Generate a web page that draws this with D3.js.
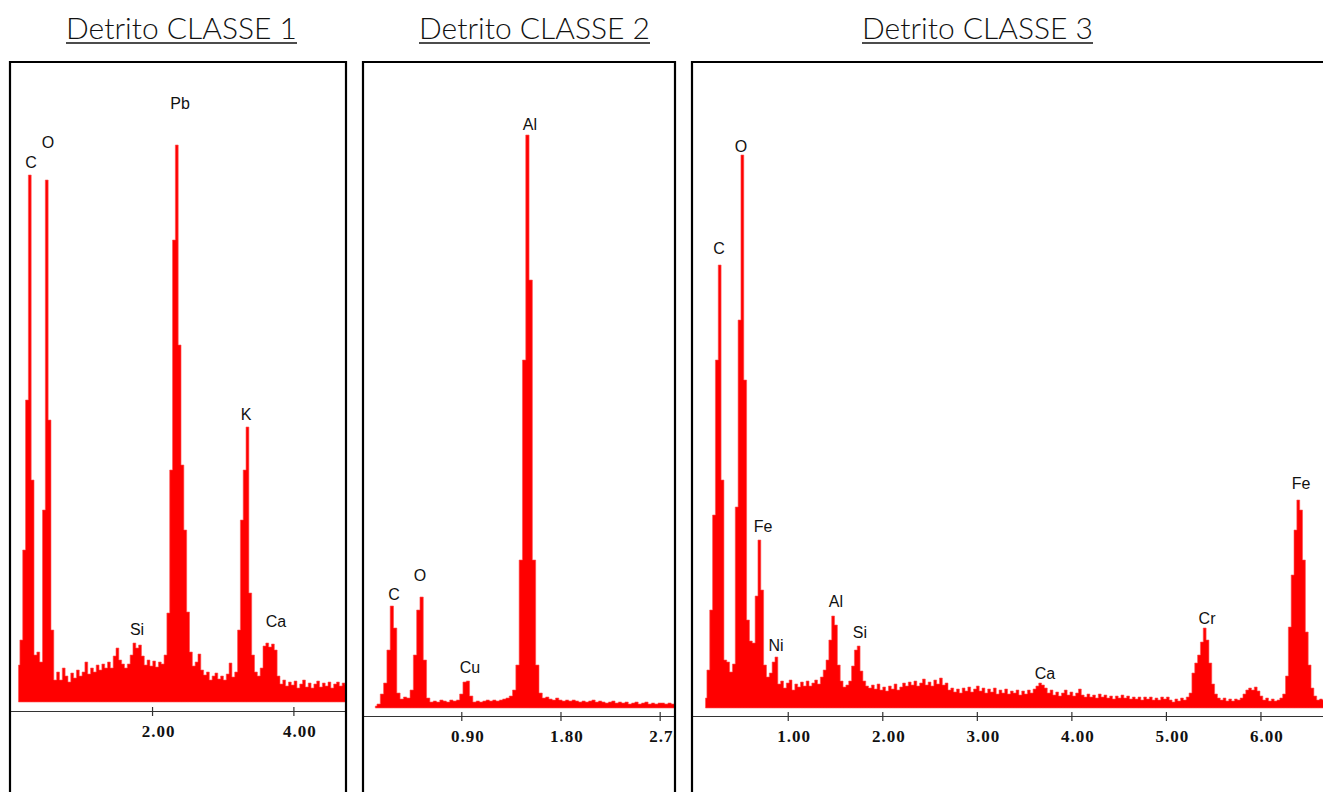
<!DOCTYPE html>
<html lang="it">
<head>
<meta charset="utf-8">
<title>Detrito EDS</title>
<script src="https://cdn.jsdelivr.net/npm/d3@7/dist/d3.min.js"></script>
<style>
  html, body { margin: 0; padding: 0; background: #fff; }
  svg { display: block; }
  .title { font-family: "Lato", "DejaVu Sans", sans-serif; font-weight: 300; font-size: 29px; fill: #111; }
  .elem { font-family: "Liberation Sans", Arial, sans-serif; font-size: 16px; fill: #111; text-anchor: middle; }
  .tick text { font-family: "Liberation Serif", "Times New Roman", serif; font-weight: bold; font-size: 17px; fill: #111; letter-spacing: 1px; }
</style>
</head>
<body>
<svg id="chart" width="1323" height="792"></svg>
<script>
// ---- data (energy in keV, counts in arbitrary units) ----
var titles = ["Detrito CLASSE 1", "Detrito CLASSE 2", "Detrito CLASSE 3"];

// Detrito CLASSE 1 : channels from 0.11 keV, 0.04 keV apart
var classe1Start = 0.11, classe1Step = 0.04;
var classe1Counts = [37, 62, 152, 302, 527, 222, 47, 50, 40, 192,
  522, 282, 72, 22, 30, 22, 34, 26, 20, 29,
  24, 32, 26, 30, 40, 28, 34, 30, 37, 32,
  38, 34, 40, 34, 46, 54, 42, 38, 34, 38,
  47, 59, 54, 57, 46, 37, 42, 36, 41, 35,
  40, 38, 47, 89, 232, 462, 557, 357, 237, 172,
  90, 50, 36, 40, 48, 32, 27, 30, 22, 26,
  29, 23, 26, 22, 28, 39, 25, 30, 72, 182,
  232, 275, 109, 47, 30, 26, 34, 56, 59, 55,
  58, 52, 26, 18, 22, 16, 20, 17, 21, 14,
  18, 22, 15, 19, 14, 18, 21, 15, 19, 16,
  20, 14, 18, 20, 16, 19, 17];
var classe1Ticks = [2, 4];
var classe1Elements = ["C", "O", "Pb", "Si", "K", "Ca"];
var classe1ElemKeV = [0.287, 0.528, 2.396, 1.787, 3.33, 3.754];
var classe1ElemHeight = [534, 554, 593, 67, 282, 75];

// Detrito CLASSE 2 : channels from 0.12 keV, 0.03 keV apart
var classe2Start = 0.12, classe2Step = 0.03;
var classe2Counts = [2, 4, 14, 25, 58, 102, 80, 15, 9, 11,
  10, 18, 53, 98, 111, 48, 10, 6, 7, 6,
  8, 7, 6, 8, 7, 8, 14, 26, 27, 12,
  6, 7, 6, 7, 8, 7, 8, 7, 8, 9,
  10, 12, 18, 43, 148, 348, 573, 428, 148, 43,
  15, 10, 11, 9, 8, 10, 8, 7, 8, 7,
  8, 7, 6, 7, 6, 7, 8, 6, 7, 6,
  5, 6, 7, 5, 6, 5, 6, 4, 5, 6,
  4, 5, 6, 4, 5, 4, 5, 5, 4, 5,
  4, 5];
var classe2Ticks = [0.9, 1.8, 2.7];
var classe2Elements = ["C", "O", "Cu", "Al"];
var classe2ElemKeV = [0.289, 0.525, 0.979, 1.523];
var classe2ElemHeight = [108, 127, 35, 578];

// Detrito CLASSE 3 : channels from 0.13 keV, 0.03 keV apart
var classe3Start = 0.13, classe3Step = 0.03;
var classe3Counts = [10, 38, 98, 193, 348, 443, 228, 48, 46, 36,
  44, 201, 388, 553, 328, 88, 67, 65, 112, 168,
  118, 43, 31, 35, 46, 51, 24, 27, 20, 25,
  28, 18, 24, 21, 26, 22, 27, 22, 25, 28,
  24, 31, 38, 48, 68, 92, 83, 43, 27, 21,
  23, 27, 42, 58, 62, 37, 27, 22, 20, 23,
  19, 24, 18, 21, 17, 22, 19, 24, 18, 21,
  25, 22, 26, 23, 27, 22, 25, 29, 23, 26,
  22, 28, 24, 30, 23, 25, 18, 20, 16, 19,
  15, 20, 17, 21, 16, 19, 22, 17, 20, 15,
  19, 16, 20, 14, 18, 15, 19, 14, 17, 15,
  18, 13, 17, 14, 18, 15, 19, 22, 25, 23,
  20, 15, 18, 13, 16, 12, 15, 18, 13, 16,
  12, 15, 19, 13, 11, 14, 11, 13, 10, 14,
  11, 13, 10, 12, 9, 12, 10, 13, 10, 12,
  9, 11, 9, 11, 8, 11, 9, 11, 8, 10,
  8, 11, 9, 11, 8, 6, 9, 7, 10, 8,
  11, 15, 35, 45, 53, 66, 80, 68, 45, 24,
  14, 10, 8, 10, 7, 9, 7, 9, 8, 10,
  14, 18, 20, 18, 21, 17, 12, 8, 10, 7,
  9, 7, 8, 10, 14, 32, 81, 133, 178, 208,
  198, 148, 76, 43, 20, 12, 8, 9, 8];
var classe3Ticks = [1, 2, 3, 4, 5, 6];
var classe3Elements = ["C", "O", "Fe", "Ni", "Al", "Si", "Ca", "Cr", "Fe"];
var classe3ElemKeV = [0.273, 0.506, 0.738, 0.876, 1.510, 1.764, 3.721, 5.435, 6.429];
var classe3ElemHeight = [454, 556, 176, 57, 101, 70, 29, 84, 219];

// ---- layout ----
var panels = [
  { title: titles[0], titleX: 66, titleW: 231, box: [10, 346], xr: [10.7, 346.4], keVmax: 4.75, base: 702, axisY: 711,
    start: classe1Start, step: classe1Step, counts: classe1Counts, ticks: classe1Ticks,
    elems: classe1Elements, elemKeV: classe1ElemKeV, elemH: classe1ElemHeight },
  { title: titles[1], titleX: 419, titleW: 231, box: [363, 675], xr: [362.1, 675.1], keVmax: 2.84, base: 708, axisY: 716,
    start: classe2Start, step: classe2Step, counts: classe2Counts, ticks: classe2Ticks,
    elems: classe2Elements, elemKeV: classe2ElemKeV, elemH: classe2ElemHeight },
  { title: titles[2], titleX: 862, titleW: 231, box: [692, 1340], xr: [693.2, 1323.8], keVmax: 6.67, base: 708, axisY: 716,
    start: classe3Start, step: classe3Step, counts: classe3Counts, ticks: classe3Ticks,
    elems: classe3Elements, elemKeV: classe3ElemKeV, elemH: classe3ElemHeight }
];
var boxTop = 62;
var titleY = 39;

var svg = d3.select("#chart");

panels.forEach(function(p, k) {
  var x = d3.scaleLinear().domain([0, p.keVmax]).range(p.xr);
  var y = d3.scaleLinear().domain([0, 600]).range([p.base, p.base - 600]);

  var data = p.counts.map(function(c, i) {
    return { e: p.start + i * p.step, c: c };
  });

  // title, underlined
  svg.append("text")
    .attr("class", "title")
    .attr("x", p.titleX)
    .attr("y", titleY)
    .attr("textLength", p.titleW)
    .attr("lengthAdjust", "spacingAndGlyphs")
    .text(p.title);
  svg.append("line")
    .attr("x1", p.titleX).attr("x2", p.titleX + p.titleW)
    .attr("y1", titleY + 4).attr("y2", titleY + 4)
    .attr("stroke", "#111").attr("stroke-width", 1.4);

  var clipId = "clip" + k;
  svg.append("clipPath").attr("id", clipId)
    .append("rect")
      .attr("x", p.box[0] + 1).attr("y", boxTop)
      .attr("width", p.box[1] - p.box[0] - 2).attr("height", 792 - boxTop);

  var g = svg.append("g").attr("clip-path", "url(#" + clipId + ")");

  var area = d3.area()
    .curve(d3.curveStep)
    .x(function(d) { return x(d.e); })
    .y0(y(0))
    .y1(function(d) { return y(d.c); });

  g.append("path")
    .datum(data)
    .attr("d", area)
    .attr("fill", "#ff0000")
    .attr("stroke", "#ff5050")
    .attr("stroke-width", 0.6);

  // element labels
  g.selectAll(".elem")
    .data(p.elems)
    .enter().append("text")
      .attr("class", "elem")
      .attr("x", function(d, i) { return x(p.elemKeV[i]); })
      .attr("y", function(d, i) { return y(p.elemH[i]); })
      .text(function(d) { return d; });

  // axis line
  g.append("line")
    .attr("x1", p.box[0]).attr("x2", p.box[1])
    .attr("y1", p.axisY + 0.5).attr("y2", p.axisY + 0.5)
    .attr("stroke", "#333").attr("stroke-width", 1.2);

  var axis = d3.axisBottom(x)
    .tickValues(p.ticks)
    .tickFormat(d3.format(".2f"))
    .tickSizeInner(9)
    .tickSizeOuter(0);

  var ag = g.append("g")
    .attr("transform", "translate(0," + (p.axisY - 4) + ")")
    .call(axis);
  ag.select(".domain").remove();
  ag.selectAll(".tick line").attr("stroke", "#333").attr("stroke-width", 1.2);
  ag.selectAll(".tick text")
    .attr("x", 6)
    .attr("y", 30)
    .attr("dy", "0")
    .attr("fill", "#111");

  // panel frame (no bottom edge visible)
  svg.append("path")
    .attr("d", "M" + p.box[0] + ",792V" + boxTop + "H" + p.box[1] + "V792")
    .attr("fill", "none")
    .attr("stroke", "#000")
    .attr("stroke-width", 2.2);
});
</script>
</body>
</html>
